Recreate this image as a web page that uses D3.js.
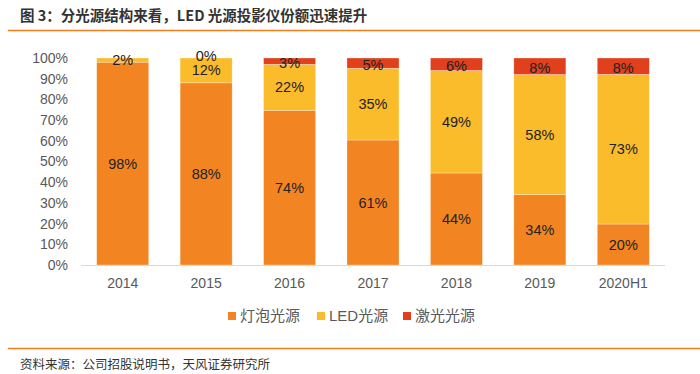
<!DOCTYPE html>
<html>
<head>
<meta charset="utf-8">
<script src="https://cdn.jsdelivr.net/npm/d3@7"></script>
<style>
  body { margin: 0; background: #fff; }
  text { font-family: "Liberation Sans", Arial, "Noto Sans CJK SC", sans-serif; }
</style>
</head>
<body>
<div id="chart"></div>
<script>
const years = ["2014", "2015", "2016", "2017", "2018", "2019", "2020H1"];
const bulb = [98, 88, 74, 61, 44, 34, 20];
const led = [2, 12, 22, 35, 49, 58, 73];
const laser = [0, 0, 3, 5, 6, 8, 8];
const seriesNames = ["灯泡光源", "LED光源", "激光光源"];
const yTicks = [0, 0.1, 0.2, 0.3, 0.4, 0.5, 0.6, 0.7, 0.8, 0.9, 1];

const width = 700;
const height = 374;
const colors = ["#F28522", "#FBBC2C", "#E0401C"];

const rows = years.map((y, i) => ({ year: y, s0: bulb[i], s1: led[i], s2: laser[i] }));
const keys = ["s0", "s1", "s2"];

const svg = d3.select("#chart")
    .append("svg")
    .attr("width", width)
    .attr("height", height);

// title + rules
svg.append("text")
    .attr("x", 20)
    .attr("y", 21)
    .attr("font-size", 14.5)
    .attr("font-weight", "bold")
    .attr("fill", "#333")
    .style("font-family", "'Noto Sans CJK SC', sans-serif")
    .text("图 3：分光源结构来看，LED 光源投影仪份额迅速提升");

svg.append("line")
    .attr("x1", 8).attr("x2", width)
    .attr("y1", 30.5).attr("y2", 30.5)
    .attr("stroke", "#F07D1E").attr("stroke-width", 1.5);

svg.append("line")
    .attr("x1", 8).attr("x2", width)
    .attr("y1", 348.5).attr("y2", 348.5)
    .attr("stroke", "#F07D1E").attr("stroke-width", 1.5);

svg.append("text")
    .attr("x", 20)
    .attr("y", 369)
    .attr("font-size", 12.5)
    .attr("fill", "#333")
    .style("font-family", "'Noto Sans CJK SC', sans-serif")
    .text("资料来源：公司招股说明书，天风证券研究所");

// scales
const x = d3.scaleBand()
    .domain(years)
    .range([81, 665])
    .paddingInner(0.376)
    .paddingOuter(0.188);

const y = d3.scaleLinear()
    .domain([0, 1])
    .range([265, 58]);

const stack = d3.stack().keys(keys).offset(d3.stackOffsetExpand);
const layers = stack(rows);

// y axis labels
svg.append("g")
    .selectAll("text")
    .data(yTicks)
    .enter()
    .append("text")
    .attr("x", 68)
    .attr("y", d => y(d))
    .attr("dy", "0.35em")
    .attr("text-anchor", "end")
    .attr("font-size", 14)
    .attr("fill", "#595959")
    .text(d => d3.format(".0%")(d));

// bars
const layerG = svg.append("g")
    .selectAll("g")
    .data(layers)
    .enter()
    .append("g")
    .attr("fill", (d, i) => colors[i]);

layerG.selectAll("rect")
    .data(d => d)
    .enter()
    .append("rect")
    .attr("x", d => x(d.data.year))
    .attr("width", x.bandwidth())
    .attr("y", d => y(d[1]))
    .attr("height", d => y(d[0]) - y(d[1]))
    .attr("stroke", "#fff")
    .attr("stroke-opacity", 0.5)
    .attr("stroke-width", 0.6);

// baseline
svg.append("line")
    .attr("x1", 81).attr("x2", 665)
    .attr("y1", y(0) + 0.5).attr("y2", y(0) + 0.5)
    .attr("stroke", "#d9d9d9");

// value labels (2014 laser is 0 and not labelled)
layers.forEach((layer, li) => {
    svg.append("g")
        .selectAll("text")
        .data(layer.filter(d => !(li === 2 && d.data.year === "2014")))
        .enter()
        .append("text")
        .attr("x", d => x(d.data.year) + x.bandwidth() / 2)
        .attr("y", d => {
            if (li === 2 && d.data[keys[li]] === 0) return y(1) - 2;
            return y((d[0] + d[1]) / 2) + (li === 2 ? 1.5 : 0);
        })
        .attr("dy", "0.35em")
        .attr("text-anchor", "middle")
        .attr("font-size", 14.5)
        .attr("fill", "#222")
        .text(d => d.data[keys[li]] + "%");
});

// x labels
svg.append("g")
    .selectAll("text")
    .data(years)
    .enter()
    .append("text")
    .attr("x", d => x(d) + x.bandwidth() / 2)
    .attr("y", 288)
    .attr("text-anchor", "middle")
    .attr("font-size", 14)
    .attr("fill", "#595959")
    .text(d => d);

// legend
const legendX = [228, 317, 403];
const legend = svg.append("g")
    .selectAll("g")
    .data(seriesNames)
    .enter()
    .append("g")
    .attr("transform", (d, i) => `translate(${legendX[i]}, 316)`);

legend.append("rect")
    .attr("x", 0)
    .attr("y", -4)
    .attr("width", 8)
    .attr("height", 8)
    .attr("fill", (d, i) => colors[i]);

legend.append("text")
    .attr("x", 12)
    .attr("dy", "0.35em")
    .attr("font-size", 15)
    .attr("fill", "#595959")
    .text(d => d);
</script>
</body>
</html>
